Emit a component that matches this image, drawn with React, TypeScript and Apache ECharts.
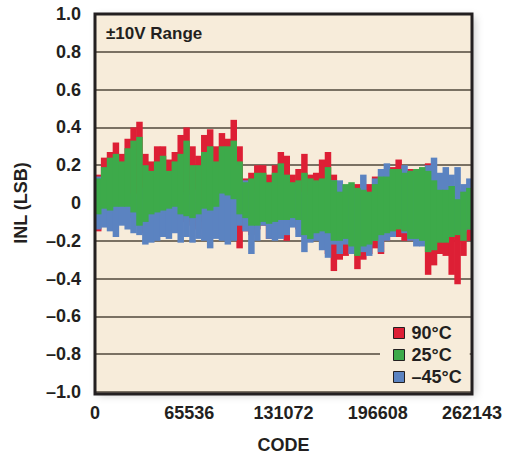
import { useEffect, useRef } from 'react';
import * as echarts from 'echarts';

const BIN_SIZE = 4096;
const X_TICK_LABELS = ['0', '65536', '131072', '196608', '262143'];
const SERIES_NAMES = ['90°C', '25°C', '–45°C'];

const red90Hi = [0.15, 0.24, 0.27, 0.32, 0.26, 0.34, 0.40, 0.43, 0.26, 0.22, 0.30,
  0.30, 0.23, 0.27, 0.36, 0.40, 0.30, 0.25, 0.36, 0.39, 0.30,
  0.37, 0.34, 0.44, 0.30, 0.13, 0.16, 0.20, 0.20, 0.15, 0.20, 0.27,
  0.25, 0.15, 0.18, 0.26, 0.15, 0.16, 0.23, 0.27, 0.15, 0.08, 0.06,
  0.10, 0.10, 0.06, 0.10, 0.14, 0.12, 0.14, 0.19, 0.23, 0.15,
  0.18, 0.16, 0.17, 0.21, 0.12, 0.08, 0.09, 0.06, 0.05, 0.07, 0.10];
const red90Lo = [-0.15, -0.08, -0.06, -0.05, -0.03, -0.05, -0.08, -0.12, -0.16, -0.12, -0.10,
  -0.12, -0.10, -0.08, -0.10, -0.10, -0.12, -0.14, -0.10, -0.13, -0.10,
  -0.05, -0.05, -0.05, -0.24, -0.15, -0.17, -0.14, -0.12, -0.19, -0.14, -0.10,
  -0.20, -0.12, -0.14, -0.18, -0.20, -0.18, -0.18, -0.27, -0.36, -0.30, -0.28,
  -0.25, -0.35, -0.30, -0.27, -0.24, -0.27, -0.20, -0.14, -0.18, -0.20,
  -0.20, -0.14, -0.22, -0.38, -0.33, -0.27, -0.28, -0.38, -0.43, -0.28, -0.20];
const green25Hi = [0.13, 0.19, 0.24, 0.26, 0.22, 0.29, 0.33, 0.35, 0.20, 0.17, 0.22,
  0.25, 0.17, 0.22, 0.26, 0.33, 0.20, 0.20, 0.27, 0.30, 0.22,
  0.30, 0.30, 0.33, 0.22, 0.11, 0.13, 0.16, 0.16, 0.11, 0.16, 0.21,
  0.15, 0.11, 0.12, 0.16, 0.13, 0.12, 0.13, 0.19, 0.12, 0.06, 0.10,
  0.11, 0.08, 0.07, 0.06, 0.10, 0.14, 0.14, 0.18, 0.18, 0.16,
  0.17, 0.18, 0.19, 0.17, 0.12, 0.07, 0.07, 0.09, 0.02, 0.06, 0.08];
const green25Lo = [-0.06, -0.03, -0.04, -0.02, -0.02, -0.02, -0.05, -0.12, -0.10, -0.06, -0.05,
  -0.04, -0.03, -0.02, -0.06, -0.07, -0.08, -0.06, -0.03, -0.04, -0.02,
  0.05, 0.04, 0.02, -0.06, -0.08, -0.12, -0.12, -0.10, -0.11, -0.10, -0.09,
  -0.09, -0.08, -0.09, -0.17, -0.19, -0.16, -0.15, -0.16, -0.20, -0.20, -0.19,
  -0.23, -0.28, -0.23, -0.22, -0.20, -0.17, -0.16, -0.15, -0.14, -0.15,
  -0.19, -0.19, -0.20, -0.26, -0.25, -0.21, -0.21, -0.18, -0.17, -0.20, -0.14];
const blue45Hi = [0.14, 0.12, 0.05, 0.02, 0.03, 0.05, 0.05, 0.02, 0.08, 0.02, 0.05,
  0.05, 0.08, 0.03, 0.06, 0.04, 0.07, 0.00, 0.02, 0.05, 0.03,
  0.12, 0.10, 0.08, 0.10, 0.12, 0.07, 0.05, 0.03, 0.05, 0.07, 0.05,
  0.10, 0.10, 0.05, 0.06, 0.04, 0.06, 0.05, 0.08, 0.12, 0.12, 0.07,
  0.08, 0.06, 0.15, 0.05, 0.13, 0.18, 0.21, 0.15, 0.10, 0.20,
  0.17, 0.14, 0.12, 0.20, 0.24, 0.16, 0.19, 0.15, 0.19, 0.10, 0.13];
const blue45Lo = [-0.14, -0.13, -0.15, -0.18, -0.12, -0.14, -0.16, -0.17, -0.22, -0.21, -0.20,
  -0.18, -0.19, -0.16, -0.21, -0.18, -0.21, -0.19, -0.20, -0.24, -0.19,
  -0.20, -0.22, -0.20, -0.12, -0.15, -0.27, -0.20, -0.12, -0.19, -0.20, -0.19,
  -0.17, -0.13, -0.18, -0.26, -0.21, -0.20, -0.25, -0.29, -0.22, -0.27, -0.22,
  -0.27, -0.25, -0.26, -0.28, -0.20, -0.26, -0.20, -0.18, -0.12, -0.16,
  -0.20, -0.23, -0.23, -0.20, -0.20, -0.18, -0.15, -0.16, -0.15, -0.15, -0.14];

const FONT = "'Liberation Sans', Arial, sans-serif";
const INK = '#231f20';
const BG = '#F7ECDA';
const GRID = { left: 95, top: 14, width: 377, height: 380 };

function bands(hi: number[], lo: number[]) {
  return hi.map((h, i) => [i * BIN_SIZE, (i + 1) * BIN_SIZE, lo[i], h]);
}

const renderBand = (_params: any, api: any) => {
  const p0 = api.coord([api.value(0), api.value(3)]);
  const p1 = api.coord([api.value(1), api.value(2)]);
  return {
    type: 'rect',
    shape: { x: p0[0], y: p0[1], width: p1[0] - p0[0] + 0.6, height: p1[1] - p0[1] },
    style: { fill: api.visual('color') },
  };
};

function bandSeries(name: string, color: string, hi: number[], lo: number[]) {
  return {
    type: 'custom',
    name,
    renderItem: renderBand,
    itemStyle: { color },
    encode: { x: [0, 1], y: [2, 3] },
    data: bands(hi, lo),
  };
}

export default function App() {
  const ref = useRef<HTMLDivElement>(null);
  useEffect(() => {
    if (!ref.current) return;
    const chart = echarts.init(ref.current, undefined, { renderer: 'svg' });
    chart.setOption({
      animation: false,
      backgroundColor: '#ffffff',
      grid: {
        left: GRID.left, top: GRID.top, width: GRID.width, height: GRID.height,
        show: true, backgroundColor: BG, borderWidth: 0,
        shadowColor: 'rgba(0,0,0,0.22)', shadowBlur: 8, shadowOffsetX: 3, shadowOffsetY: 3,
      },
      xAxis: {
        type: 'value', min: 0, max: 262144, interval: 65536,
        name: 'CODE', nameLocation: 'middle', nameGap: 44,
        nameTextStyle: { fontFamily: FONT, fontWeight: 'bold', fontSize: 18, color: INK },
        axisLine: { show: false }, axisTick: { show: false }, splitLine: { show: false },
        axisLabel: {
          formatter: (v: number) => X_TICK_LABELS[Math.round(v / 65536)],
          fontFamily: FONT, fontWeight: 'bold', fontSize: 18, color: INK, margin: 12,
        },
      },
      yAxis: {
        type: 'value', min: -1, max: 1, interval: 0.2,
        name: 'INL (LSB)', nameLocation: 'middle', nameGap: 65,
        nameTextStyle: { fontFamily: FONT, fontWeight: 'bold', fontSize: 18, color: INK },
        axisLine: { show: false }, axisTick: { show: false },
        splitLine: { lineStyle: { color: '#7A7163', width: 2 } },
        axisLabel: {
          formatter: (v: number) => {
            const r = Math.round(v * 10) / 10;
            if (r === 0) return '0';
            return r < 0 ? '–' + Math.abs(r).toFixed(1) : r.toFixed(1);
          },
          fontFamily: FONT, fontWeight: 'bold', fontSize: 18, color: INK, margin: 14,
        },
      },
      legend: {
        data: SERIES_NAMES,
        orient: 'vertical', left: 380, top: 322,
        itemWidth: 11, itemHeight: 11, itemGap: 4,
        icon: 'rect',
        backgroundColor: BG,
        padding: [2, 8, 2, 13],
        itemStyle: { borderColor: INK, borderWidth: 1 },
        textStyle: { fontFamily: FONT, fontWeight: 'bold', fontSize: 18, color: INK, padding: [0, 0, 0, 2] },
      },
      graphic: [
        {
          type: 'rect', z: 100, silent: true,
          shape: { x: GRID.left, y: GRID.top, width: GRID.width, height: GRID.height },
          style: { fill: 'none', stroke: INK, lineWidth: 3 },
        },
        {
          type: 'text', left: 106, top: 25, z: 100,
          style: { text: '±10V Range', font: `bold 17px ${FONT}`, fill: INK },
        },
      ],
      series: [
        bandSeries(SERIES_NAMES[0], '#DD1F35', red90Hi, red90Lo),
        bandSeries(SERIES_NAMES[2], '#5B83C1', blue45Hi, blue45Lo),
        bandSeries(SERIES_NAMES[1], '#3DAA4A', green25Hi, green25Lo),
      ],
    });
    return () => chart.dispose();
  }, []);
  return <div ref={ref} style={{ position: 'fixed', left: 0, top: 0, width: 512, height: 459 }} />;
}
